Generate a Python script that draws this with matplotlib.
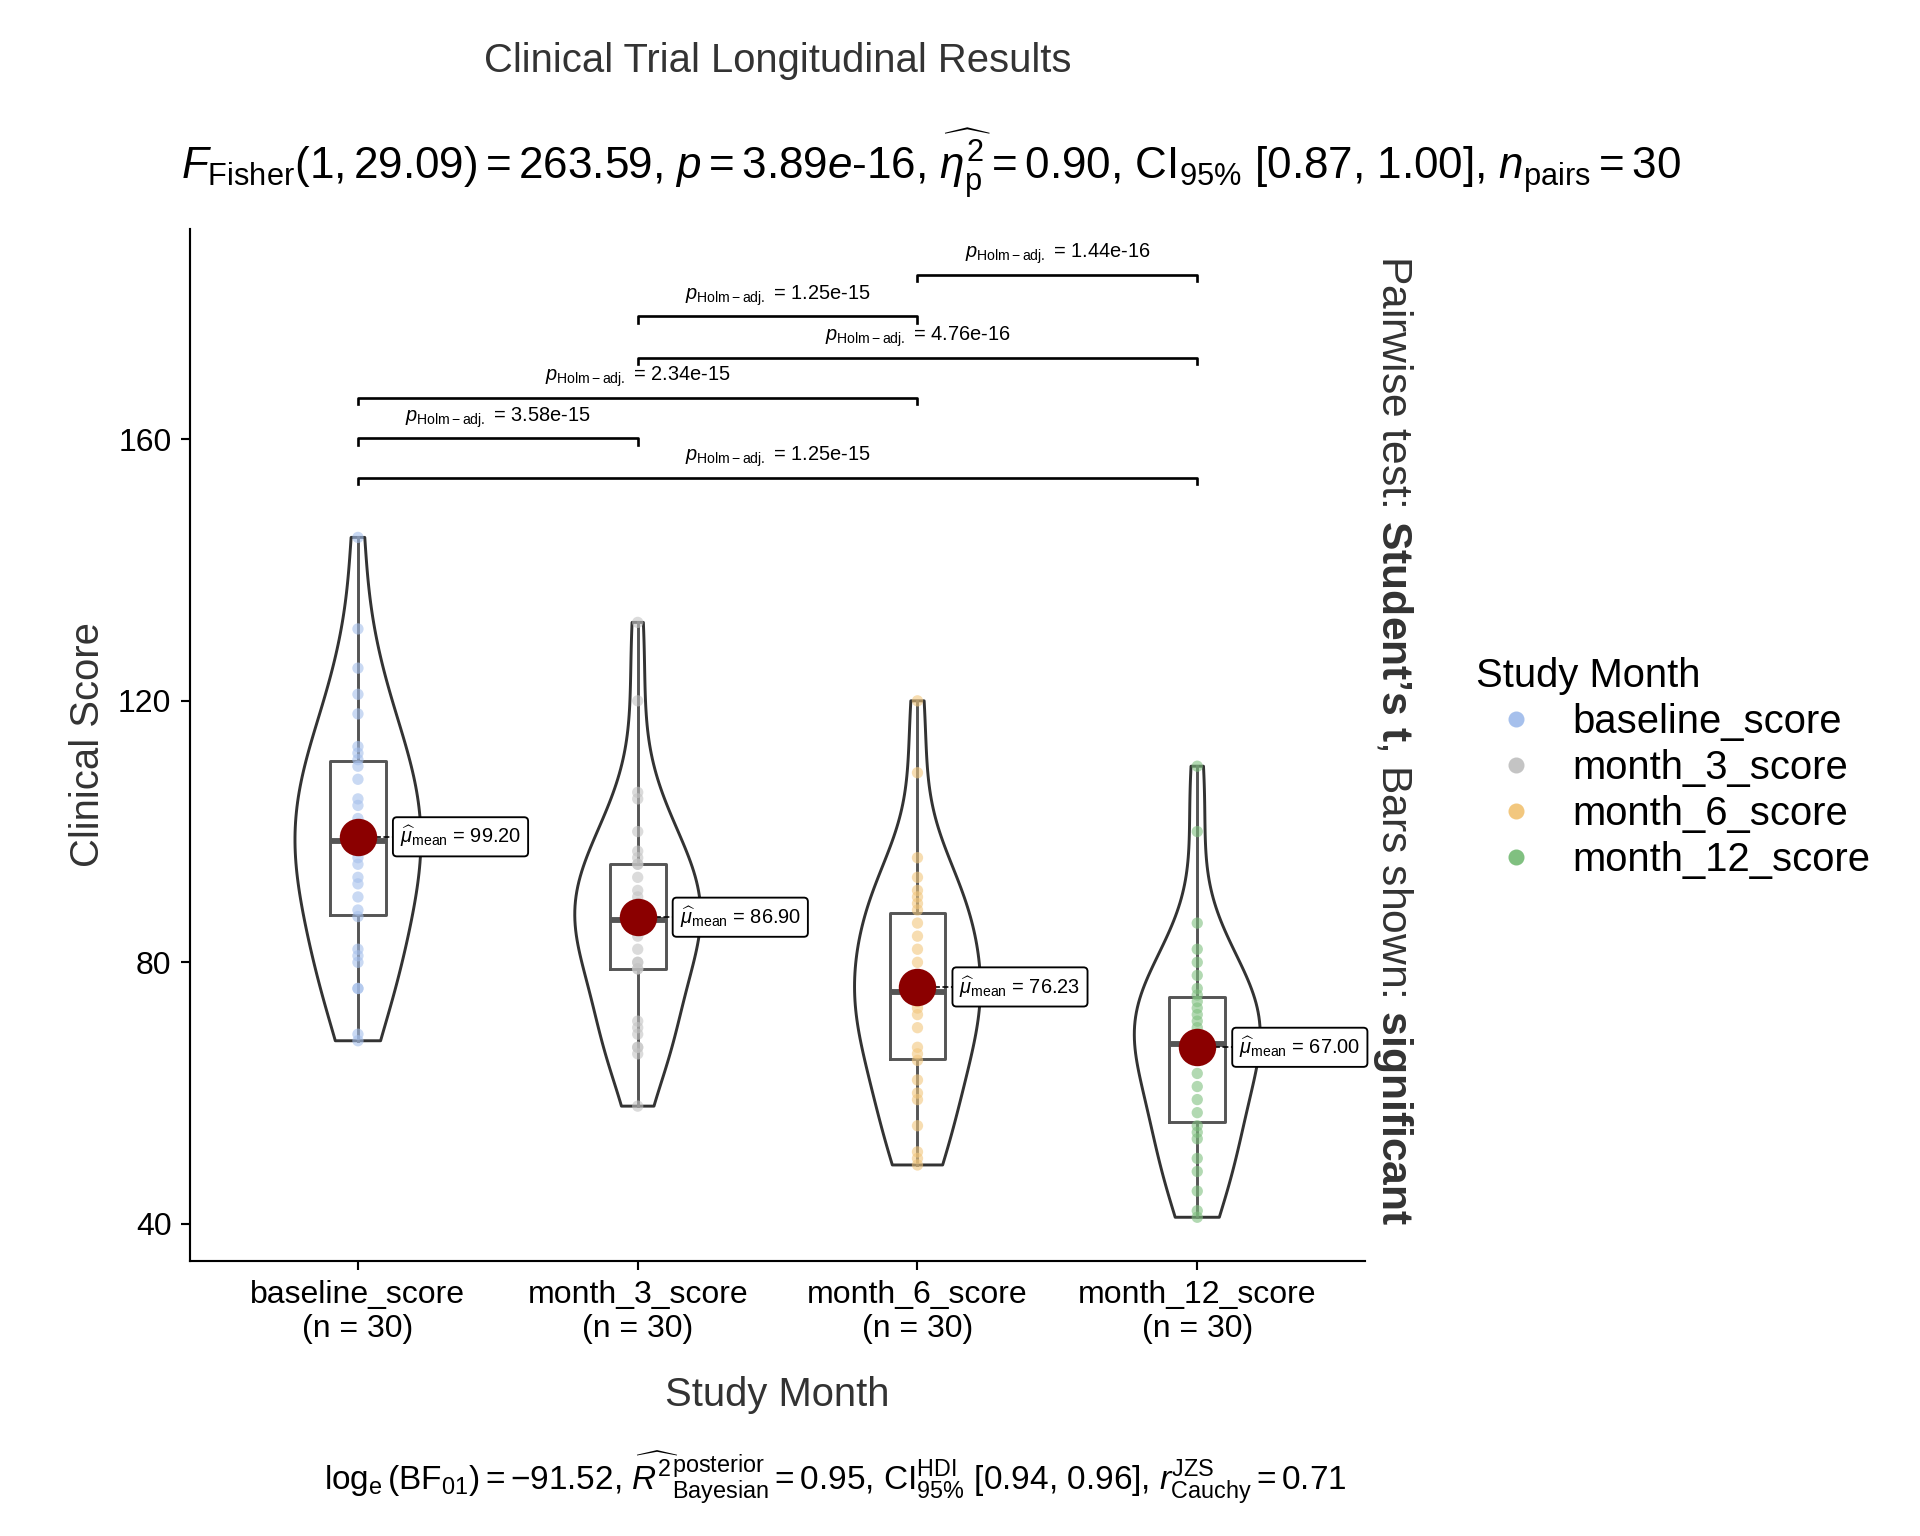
import numpy as np
import matplotlib.pyplot as plt
from matplotlib.lines import Line2D

plt.rcParams['font.family'] = ['Liberation Sans', 'DejaVu Sans']
plt.rcParams['mathtext.fontset'] = 'custom'
plt.rcParams['mathtext.rm'] = 'Liberation Sans'
plt.rcParams['mathtext.it'] = 'Liberation Sans:italic'
plt.rcParams['mathtext.bf'] = 'Liberation Sans:bold'

# Données
groups = ['baseline_score', 'month_3_score', 'month_6_score', 'month_12_score']
baseline = [145, 131, 125, 121, 118, 113, 112, 111, 110, 108, 105, 104, 102, 101, 99,
            98, 96, 95, 93, 92, 90, 88, 87, 82, 81, 80, 76, 69, 68, 76]
month_3 = [132, 120, 106, 105, 97, 95, 93, 91, 90, 89, 88, 87, 86, 85, 84,
           82, 80, 79, 79, 80, 71, 70, 69, 67, 67, 66, 58, 100, 95, 96]
month_6 = [120, 109, 96, 93, 89, 86, 84, 82, 80, 78, 77, 76, 75, 74, 73,
           72, 70, 67, 66, 65, 62, 60, 59, 55, 51, 50, 49, 90, 88, 91]
month_12 = [110, 100, 86, 80, 78, 75, 73, 71, 70, 69, 68, 67, 66, 65, 63,
            61, 59, 57, 55, 54, 53, 50, 48, 45, 42, 41, 82, 76, 74, 72]
data = [baseline, month_3, month_6, month_12]
colors = ['#a6c0ec', '#c4c4c4', '#f2c77e', '#80c080']

pairs = [(0, 3), (0, 1), (0, 2), (1, 3), (1, 2), (2, 3)]
pair_y = [154.1, 160.2, 166.4, 172.5, 178.8, 185.2]
pair_p = ['1.25e-15', '3.58e-15', '2.34e-15', '4.76e-16', '1.25e-15', '1.44e-16']

fig = plt.figure(figsize=(10, 8), dpi=192)
ax = fig.add_axes([0.099, 0.179, 0.612, 0.672])

x = np.arange(len(groups))
vp = ax.violinplot(data, positions=x, widths=0.45, showextrema=False)
for b in vp['bodies']:
    b.set_facecolor('none')
    b.set_edgecolor('#333333')
    b.set_linewidth(1.1)
    b.set_alpha(1)

ax.boxplot(data, positions=x, widths=0.2, showcaps=False, showfliers=False,
           whis=(0, 100),
           boxprops=dict(color='#555555', linewidth=1.1),
           whiskerprops=dict(color='#555555', linewidth=1.1),
           medianprops=dict(color='#555555', linewidth=2.2))

for i, d in enumerate(data):
    ax.scatter(np.full(len(d), x[i]), d, s=18, color=colors[i], alpha=0.6,
               zorder=3, edgecolors='none')
    m = np.mean(d)
    ax.scatter([x[i]], [m], s=170, color='#8b0000', zorder=5)
    ax.plot([x[i], x[i] + 0.14], [m, m], ls='--', color='black', lw=0.6, zorder=4)
    ax.text(x[i] + 0.15, m, r'$\widehat{\mu}_{\mathrm{mean}}$' + f' = {m:.2f}',
            fontsize=7.5, va='center', ha='left', zorder=6,
            bbox=dict(boxstyle='round,pad=0.35,rounding_size=0.2', fc='white', ec='black', lw=0.7))

for (a, b), yv, p in zip(pairs, pair_y, pair_p):
    ax.plot([a, a, b, b], [yv - 1.0, yv, yv, yv - 1.0], color='black', lw=1)
    ax.text((a + b) / 2, yv + 1.3, r'$p_{\mathrm{Holm-adj.}}$' + f' = {p}',
            ha='center', va='bottom', fontsize=7.5)

ax.set_xlim(-0.6, 3.6)
ax.set_ylim(34.3, 192.2)
ax.set_yticks([40, 80, 120, 160])
ax.set_xticks(x)
ax.set_xticklabels([f'{g}\n(n = {len(d)})' for g, d in zip(groups, data)], fontsize=12)
ax.tick_params(axis='y', labelsize=12)
ax.spines['top'].set_visible(False)
ax.spines['right'].set_visible(False)
ax.set_xlabel('Study Month', fontsize=15, color='#333333', labelpad=12)
ax.set_ylabel('Clinical Score', fontsize=15, color='#333333')

ax.text(3.7, 114, r"Pairwise test: $\mathbf{Student’s\ t}$, Bars shown: $\mathbf{significant}$",
        rotation=-90, ha='center', va='center', fontsize=16, color='#333333')

fig.text(0.405, 0.96, 'Clinical Trial Longitudinal Results', ha='center', va='center',
         fontsize=15, color='#333333')
fig.text(0.485, 0.893,
         r'$F_{\mathrm{Fisher}}(1, 29.09) = 263.59$, $p = 3.89e\text{-}16$, '
         r'$\widehat{\eta_{\mathrm{p}}^{2}} = 0.90$, $\mathrm{CI}_{95\%}$ [0.87, 1.00], '
         r'$n_{\mathrm{pairs}} = 30$',
         ha='center', va='center', fontsize=16.5)
fig.text(0.435, 0.038,
         r'$\log_{\mathrm{e}}(\mathrm{BF}_{01}) = -91.52$, '
         r'$\widehat{R^{2}}^{\mathrm{posterior}}_{\mathrm{Bayesian}} = 0.95$, '
         r'$\mathrm{CI}^{\mathrm{HDI}}_{95\%}$ [0.94, 0.96], '
         r'$r^{\mathrm{JZS}}_{\mathrm{Cauchy}} = 0.71$',
         ha='center', va='center', fontsize=12.5)

handles = [Line2D([], [], marker='o', ls='none', color=c, markersize=5) for c in colors]
fig.legend(handles, groups, title='Study Month', loc='center left',
           bbox_to_anchor=(0.75, 0.5), frameon=False, fontsize=15,
           title_fontsize=15, handletextpad=0.4, labelspacing=0.2, alignment='left')

fig.savefig('out.png')
